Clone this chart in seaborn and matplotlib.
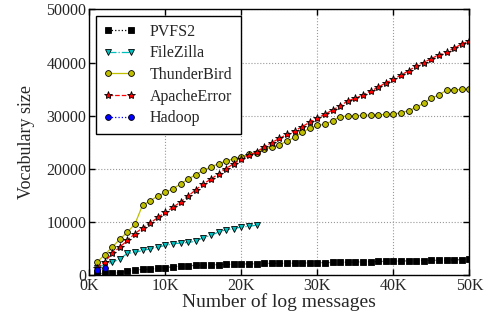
import matplotlib
matplotlib.use('Agg')
import matplotlib.pyplot as plt
import seaborn as sns

# x positions in thousands of log messages
x_k = list(range(1, 51))

pvfs2 = [390, 390, 390, 510, 830, 1020, 1140, 1200, 1330, 1450,
         1640, 1770, 1830, 1890, 1950, 2020, 2020, 2080, 2140, 2140,
         2200, 2200, 2270, 2270, 2270, 2290, 2320, 2340, 2370, 2400,
         2420, 2450, 2480, 2510, 2540, 2570, 2600, 2630, 2660, 2690,
         2720, 2750, 2780, 2810, 2840, 2870, 2900, 2940, 2980, 3020]

filezilla = [1400, 2100, 2450, 3100, 4150, 4350, 4700, 5000, 5300, 5650,
             5950, 6100, 6200, 6450, 7100, 7550, 8150, 8600, 8800, 9100,
             9250, 9450]

thunderbird = [2450, 3900, 5300, 6800, 8150, 9650, 13200, 14000, 14950, 15600,
               16300, 17200, 18100, 18950, 19750, 20400, 21000, 21500, 21950, 22350,
               22750, 23100, 23800, 24100, 24550, 25250, 25950, 26900, 27650, 28200,
               28400, 29100, 29850, 29950, 30000, 30100, 30150, 30200, 30250, 30300,
               30600, 30950, 31600, 32350, 33350, 33900, 34850, 34900, 34950, 35000]

apache_error = [1500, 2500, 4150, 5300, 6600, 7850, 8950, 9800, 10900, 11850,
                12800, 13800, 14900, 16100, 17200, 18100, 19100, 20100, 21000, 21800,
                22600, 23200, 24200, 24950, 25750, 26500, 27150, 27950, 28800, 29550,
                30300, 31100, 31850, 32800, 33300, 33900, 34650, 35350, 36200, 36850,
                37650, 38450, 39350, 40000, 40750, 41450, 41950, 42700, 43500, 44050]

hadoop = [1000, 1400]

x_ticks = [0, 10000, 20000, 30000, 40000, 50000]
x_tick_labels = ['0K', '10K', '20K', '30K', '40K', '50K']
y_ticks = [0, 10000, 20000, 30000, 40000, 50000]

sns.set_style("ticks")
plt.rcParams['font.family'] = ['Liberation Serif', 'DejaVu Serif']
plt.rcParams['xtick.direction'] = 'in'
plt.rcParams['ytick.direction'] = 'in'

fig = plt.figure(figsize=(4.92, 3.12), dpi=100)
ax = fig.add_axes([0.1815, 0.117, 0.954 - 0.1815, 0.970 - 0.117])

def xs(n):
    return [k * 1000 for k in x_k[:n]]

common = dict(ax=ax, linewidth=0.9, markeredgecolor='k', markeredgewidth=0.6)

sns.lineplot(x=xs(len(pvfs2)), y=pvfs2, color='k', linestyle=':',
             marker='s', markersize=4.2, label='PVFS2', **common)
sns.lineplot(x=xs(len(filezilla)), y=filezilla, color=(0, 0.75, 0.75),
             linestyle='-.', marker='v', markersize=5, label='FileZilla', **common)
sns.lineplot(x=xs(len(thunderbird)), y=thunderbird, color=(0.75, 0.75, 0),
             linestyle='-', marker='o', markersize=4.2, label='ThunderBird', **common)
sns.lineplot(x=xs(len(apache_error)), y=apache_error, color='r',
             linestyle='--', marker='*', markersize=6, label='ApacheError', **common)
sns.lineplot(x=xs(len(hadoop)), y=hadoop, color='b', linestyle=':',
             marker='o', markersize=4.2, label='Hadoop', **common)

ax.set_xlim(0, 50000)
ax.set_ylim(0, 50000)
ax.set_xticks(x_ticks)
ax.set_xticklabels(x_tick_labels)
ax.set_yticks(y_ticks)
ax.tick_params(labelsize=11.5, top=True, right=True, length=4, width=1,
               color='k', pad=2)
for s in ax.spines.values():
    s.set_color('k')
    s.set_linewidth(1)

ax.grid(True, linestyle=':', color='#999999', linewidth=0.8)
ax.set_xlabel('Number of log messages', fontsize=14, labelpad=-0.5)
ax.set_ylabel('Vocabulary size', fontsize=13, labelpad=8)

leg = ax.legend(loc='upper left', numpoints=2, fontsize=11.5, frameon=True,
                fancybox=False, edgecolor='k', framealpha=1,
                borderaxespad=0.4, labelspacing=0.35, handlelength=2.0,
                handletextpad=0.9, borderpad=0.5)
leg.get_frame().set_linewidth(1)

plt.savefig('out.png', dpi=100)
plt.close()
